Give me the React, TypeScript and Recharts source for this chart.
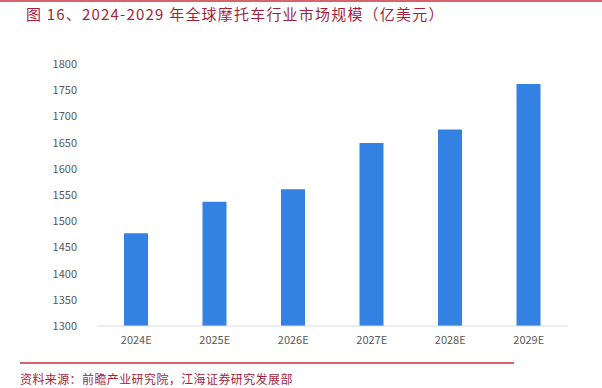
import { Bar, BarChart, XAxis, YAxis } from 'recharts'

// values (亿美元)
const years = ['2024E', '2025E', '2026E', '2027E', '2028E', '2029E']
const marketSize = [1477, 1537, 1561, 1649, 1675, 1762]
const yTicks = [1300, 1350, 1400, 1450, 1500, 1550, 1600, 1650, 1700, 1750, 1800]

const TITLE = '图 16、2024-2029 年全球摩托车行业市场规模（亿美元）'
const SOURCE = '资料来源：前瞻产业研究院，江海证券研究发展部'

const rows = years.map((year, i) => ({ year, value: marketSize[i] }))

const FONT = '"Noto Sans CJK SC", "Noto Sans", sans-serif'

export default function App() {
  return (
    <div
      style={{
        position: 'fixed',
        left: 0,
        top: 0,
        width: 602,
        height: 388,
        background: '#fff',
        overflow: 'hidden',
        fontFamily: FONT,
      }}
    >
      {/* red rule at top */}
      <div style={{ position: 'absolute', left: 0, top: 0, width: 602, height: 2, background: '#d9636b' }} />
      <div
        style={{
          position: 'absolute',
          left: 26,
          top: 4,
          fontSize: 15,
          lineHeight: '20px',
          color: '#a51f3d',
          letterSpacing: 1.2,
          whiteSpace: 'nowrap',
        }}
      >
        {TITLE}
      </div>

      <div style={{ position: 'absolute', left: 0, top: 0 }}>
        <BarChart
          width={602}
          height={388}
          data={rows}
          margin={{ top: 64, right: 34, bottom: 32, left: 0 }}
          barSize={24}
        >
          <XAxis
            dataKey="year"
            height={30}
            axisLine={{ stroke: '#d9d9d9' }}
            tickLine={false}
            tickSize={0}
            tickMargin={10}
            tick={{ fontSize: 11, fill: '#595959', fontFamily: FONT }}
          />
          <YAxis
            width={97}
            domain={[1300, 1800]}
            ticks={yTicks}
            interval={0}
            axisLine={false}
            tickLine={false}
            tickSize={0}
            tickMargin={20}
            tick={{ fontSize: 11, fill: '#595959', fontFamily: FONT }}
          />
          <Bar dataKey="value" fill="#3481e4" isAnimationActive={false} />
        </BarChart>
      </div>

      {/* red rule + source line at bottom */}
      <div style={{ position: 'absolute', left: 20, top: 362, width: 494, height: 2, background: '#d9636b' }} />
      <div
        style={{
          position: 'absolute',
          left: 20,
          top: 371,
          fontSize: 12,
          lineHeight: '16px',
          color: '#a51f3d',
          letterSpacing: 0.4,
          whiteSpace: 'nowrap',
        }}
      >
        {SOURCE}
      </div>
    </div>
  )
}
